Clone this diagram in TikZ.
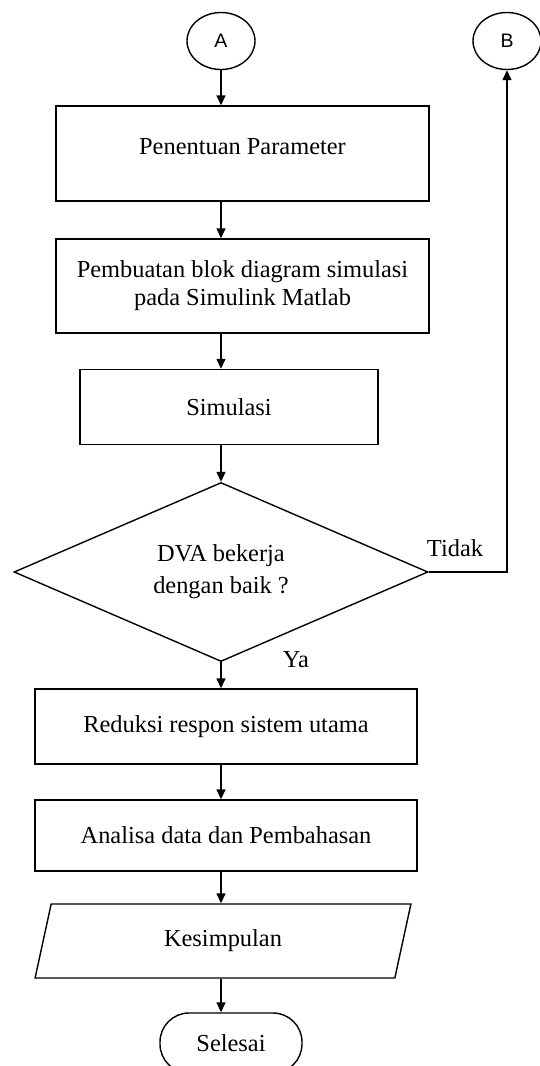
\documentclass[tikz,border=0pt]{standalone}
\usepackage{fontspec}
\setmainfont{Liberation Serif}
\newfontfamily\konfont{Liberation Sans}
\usetikzlibrary{shapes.geometric,arrows.meta}

\begin{document}
\begin{tikzpicture}[x=1pt,y=-1pt,line width=1.4pt,>={Triangle[length=10pt,width=9pt]},
  font=\fontsize{24.4}{28}\selectfont,
  proses/.style={draw,rectangle,inner sep=0pt,align=center},
  konektor/.style={draw,ellipse,minimum width=68pt,minimum height=57pt,inner sep=0pt,font=\konfont\fontsize{19.5}{22}\selectfont}]
\useasboundingbox (0,0) rectangle (540,1066);
\node[konektor] (A) at (221,41) {A};
\node[konektor] (B) at (507,41) {B};
\node[proses,minimum width=373pt,minimum height=95pt,text depth=14pt] (param) at (242.5,153.5) {Penentuan Parameter};
\node[proses,minimum width=373pt,minimum height=94pt] (blok) at (242.5,286) {Pembuatan blok diagram simulasi\\pada Simulink Matlab};
\node[proses,minimum width=298pt,minimum height=75pt] (sim) at (229,407) {Simulasi};
\node[draw,diamond,aspect=2.3,minimum width=414pt,minimum height=179pt,inner sep=0pt,align=center] (cek) at (221,572) {DVA bekerja\\[4pt]dengan baik ?};
\node[proses,minimum width=382pt,minimum height=75pt] (red) at (226,726.5) {Reduksi respon sistem utama};
\node[proses,minimum width=382pt,minimum height=71pt] (ana) at (226,835.5) {Analisa data dan Pembahasan};
\node[draw,trapezium,trapezium left angle=76,trapezium right angle=104,trapezium stretches=true,minimum width=376pt,minimum height=74pt,inner sep=0pt] (kes) at (223,941) {Kesimpulan};
\node[draw,rectangle,rounded corners=29pt,minimum width=142pt,minimum height=60pt] (selesai) at (231,1043) {Selesai};
\node (tidak) at (455,548) {Tidak};
\node (ya) at (296,660) {Ya};
\draw[->] (A) -- (param.north -| A);
\draw[->] (param.south -| A) -- (blok.north -| A);
\draw[->] (blok.south -| A) -- (sim.north -| A);
\draw[->] (sim.south -| A) -- (cek);
\draw[->] (cek) -- (red.north -| cek);
\draw[->] (red.south -| A) -- (ana.north -| A);
\draw[->] (ana.south -| A) -- (kes.north -| A);
\draw[->] (kes.south -| A) -- (selesai.north -| A);
\draw[->] (cek.east) -| (B);
\end{tikzpicture}
\end{document}
